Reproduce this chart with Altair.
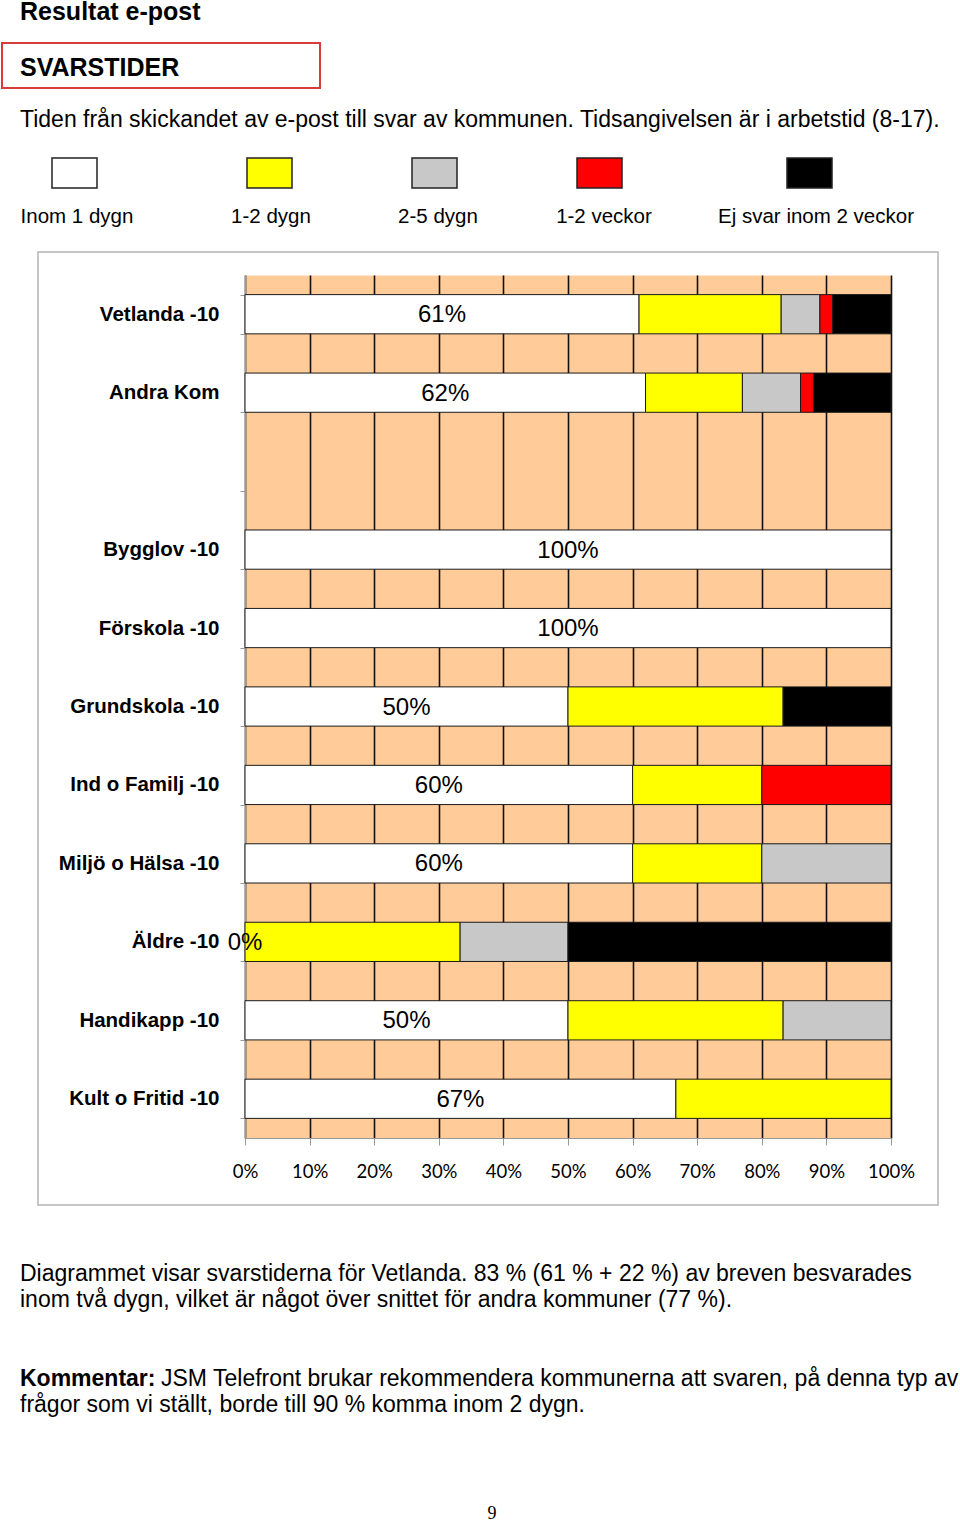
import altair as alt
import pandas as pd

# ---------------- data ----------------
groups = ["Inom 1 dygn", "1-2 dygn", "2-5 dygn", "1-2 veckor", "Ej svar inom 2 veckor"]
group_colors = ["#FFFFFF", "#FFFF00", "#C8C8C8", "#FF0000", "#000000"]

axis_categories = ["Vetlanda -10", "Andra Kom", " ", "Bygglov -10", "Förskola -10",
                   "Grundskola -10", "Ind o Familj -10", "Miljö o Hälsa -10",
                   "Äldre -10", "Handikapp -10", "Kult o Fritid -10"]
bar_categories = ["Vetlanda -10", "Andra Kom", "Bygglov -10", "Förskola -10",
                  "Grundskola -10", "Ind o Familj -10", "Miljö o Hälsa -10",
                  "Äldre -10", "Handikapp -10", "Kult o Fritid -10"]

inom_1_dygn = [61, 62, 100, 100, 50, 60, 60, 0, 50, 66.7]
dygn_1_2 = [22, 15, 0, 0, 33.3, 20, 20, 33.3, 33.3, 33.3]
dygn_2_5 = [6, 9, 0, 0, 0, 0, 20, 16.7, 16.7, 0]
veckor_1_2 = [2, 2, 0, 0, 0, 20, 0, 0, 0, 0]
ej_svar = [9, 12, 0, 0, 16.7, 0, 0, 50, 0, 0]

x_ticks = [0, 10, 20, 30, 40, 50, 60, 70, 80, 90, 100]

page_title = "Resultat e-post"
box_title = "SVARSTIDER"
intro = "Tiden från skickandet av e-post till svar av kommunen. Tidsangivelsen är i arbetstid (8-17)."
body1 = "Diagrammet visar svarstiderna för Vetlanda. 83 % (61 % + 22 %) av breven besvarades"
body2 = "inom två dygn, vilket är något över snittet för andra kommuner (77 %)."
comment_head = "Kommentar:"
comment1 = "JSM Telefront brukar rekommendera kommunerna att svaren, på denna typ av"
comment2 = "frågor som vi ställt, borde till 90 % komma inom 2 dygn."
page_no = "9"

# ---------------- tables ----------------
series = [inom_1_dygn, dygn_1_2, dygn_2_5, veckor_1_2, ej_svar]
rows = []
for gi, (g, vals) in enumerate(zip(groups, series)):
    for c, v in zip(bar_categories, vals):
        rows.append({"cat": c, "group": g, "order": gi, "value": v})
bars_df = pd.DataFrame(rows)
bars_df = bars_df[bars_df["value"] > 0]

labels_df = pd.DataFrame({"cat": bar_categories, "value": inom_1_dygn})
labels_df["mid"] = labels_df["value"] / 2
labels_df["label"] = labels_df["value"].map(lambda v: f"{v:.0f}%")

OX, OY = 245, 275
W, H = 646, 863
dummy = pd.DataFrame({"k": [0]})

FONT = "Liberation Sans"

y_scale = alt.Scale(domain=axis_categories, paddingInner=0.5, paddingOuter=0.25)
x_scale = alt.Scale(domain=[0, 100], nice=False)


def box(x0, y0, x1, y1, stroke, sw, fill="transparent"):
    return alt.Chart(dummy).mark_rect(fill=fill, stroke=stroke, strokeWidth=sw).encode(
        x=alt.value(x0 - OX), x2=alt.value(x1 - OX),
        y=alt.value(y0 - OY), y2=alt.value(y1 - OY))


def txt(s, x, y, size, bold=False, align="left", font=FONT):
    return alt.Chart(pd.DataFrame({"t": [s]})).mark_text(
        align=align, baseline="alphabetic", fontSize=size,
        fontWeight="bold" if bold else "normal", font=font, color="black"
    ).encode(text="t:N", x=alt.value(x - OX), y=alt.value(y - OY))


frame = box(38, 252, 938, 1205, "#B4B4B4", 1.5)
red_box = box(2, 43, 320, 88, "#D93B3B", 2)

bars = alt.Chart(bars_df).mark_bar(stroke="#1a1a1a", strokeWidth=1).encode(
    x=alt.X("sum(value):Q", scale=x_scale, stack="zero",
            axis=alt.Axis(values=x_ticks, labelExpr="datum.value + '%'", title=None,
                          grid=True, gridColor="#111111", gridWidth=1.6,
                          domainColor="#999999", tickColor="#999999", tickSize=7,
                          labelFont="Lato", labelFontSize=18.5, labelColor="black",
                          labelPadding=17, labelFlush=False)),
    y=alt.Y("cat:N", scale=y_scale,
            axis=alt.Axis(title=None, tickBand="extent", tickSize=5,
                          tickColor="#999999", domainColor="#999999",
                          labelFont=FONT, labelFontWeight="bold", labelFontSize=20.5,
                          labelColor="black", labelPadding=21)),
    color=alt.Color("group:N", scale=alt.Scale(domain=groups, range=group_colors), legend=None),
    order=alt.Order("order:Q", sort="ascending"),
)

bar_labels = alt.Chart(labels_df).mark_text(
    font=FONT, fontSize=24, color="black", baseline="middle", dy=1
).encode(
    x=alt.X("mid:Q", scale=x_scale),
    y=alt.Y("cat:N", scale=y_scale),
    text="label:N",
)

# legend
legend_squares = [(52, 97), (247, 292), (412, 457), (577, 622), (787, 832)]
legend_label_x = [77, 271, 438, 604, 816]
legend_layers = []
for (x0, x1), lx, g, col in zip(legend_squares, legend_label_x, groups, group_colors):
    legend_layers.append(
        alt.Chart(dummy).mark_rect(fill=col, stroke="#222222", strokeWidth=1.5).encode(
            x=alt.value(x0 - OX), x2=alt.value(x1 - OX),
            y=alt.value(158 - OY), y2=alt.value(188 - OY)))
    legend_layers.append(txt(g, lx, 223, 20.5, align="center"))

texts = [
    txt(page_title, 20, 20, 25, bold=True),
    txt(box_title, 20, 76, 25, bold=True),
    txt(intro, 20, 127, 23),
    txt(body1, 20, 1281, 23),
    txt(body2, 20, 1307, 23),
    txt(comment_head, 20, 1386, 23, bold=True),
    txt(comment1, 161, 1386, 23),
    txt(comment2, 20, 1412, 23),
    txt(page_no, 492, 1519, 18, align="center", font="Liberation Serif"),
]

chart = alt.layer(frame, red_box, bars, bar_labels, *legend_layers, *texts).properties(
    width=W, height=H,
    autosize=alt.AutoSizeParams(type="none"),
    padding={"left": OX, "top": OY, "right": 960 - OX - W, "bottom": 1523 - OY - H},
    background="white",
).configure_view(fill="#FFCC99", stroke="transparent")

chart.save("out.html", embed_options={"renderer": "svg", "actions": False})
